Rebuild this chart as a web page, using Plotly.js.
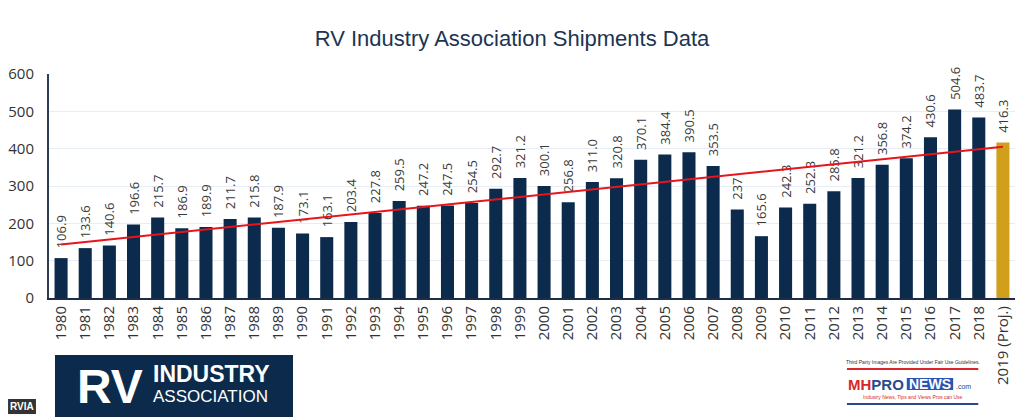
<!DOCTYPE html>
<html>
<head>
<meta charset="utf-8">
<script src="https://cdn.plot.ly/plotly-3.0.1.min.js"></script>
<style>html,body{margin:0;padding:0;background:#fff;}#chart{width:1024px;height:420px;}</style>
</head>
<body>
<div id="chart"></div>
<script>
const years = ['1980','1981','1982','1983','1984','1985','1986','1987','1988','1989','1990','1991','1992','1993','1994','1995','1996','1997','1998','1999','2000','2001','2002','2003','2004','2005','2006','2007','2008','2009','2010','2011','2012','2013','2014','2015','2016','2017','2018','2019 (Proj.)'];
const shipments = [106.9,133.6,140.6,196.6,215.7,186.9,189.9,211.7,215.8,187.9,173.1,163.1,203.4,227.8,259.5,247.2,247.5,254.5,292.7,321.2,300.1,256.8,311.0,320.8,370.1,384.4,390.5,353.5,237,165.6,242.3,252.3,285.8,321.2,356.8,374.2,430.6,504.6,483.7,416.3];
const labels = ['106.9','133.6','140.6','196.6','215.7','186.9','189.9','211.7','215.8','187.9','173.1','163.1','203.4','227.8','259.5','247.2','247.5','254.5','292.7','321.2','300.1','256.8','311.0','320.8','370.1','384.4','390.5','353.5','237','165.6','242.3','252.3','285.8','321.2','356.8','374.2','430.6','504.6','483.7','416.3'];
const trendYears = ['1980','2019 (Proj.)'];
const trendValues = [143, 405];

const navy = '#0c2b4c';
const gold = '#d19f1c';
const colors = years.map((y,i)=> i === years.length-1 ? gold : navy);
// non-breaking spaces lift the rotated labels a little above the bar tops
const padded = labels.map(s => '\u00a0\u00a0' + s);

const bars = {
  type:'bar', x: years, y: shipments, text: padded,
  textposition:'outside', textangle:-90, constraintext:'none', cliponaxis:false,
  textfont:{family:'Open Sans, Liberation Sans, sans-serif', size:13, color:'#3a3a3a'},
  marker:{color: colors}, hoverinfo:'x+y', showlegend:false
};
const trend = {
  type:'scatter', mode:'lines', x: trendYears, y: trendValues,
  line:{color:'#e8141c', width:2}, showlegend:false, hoverinfo:'skip'
};

const layout = {
  width:1024, height:420,
  margin:{l:49, r:9, t:74, b:122},
  paper_bgcolor:'#fff', plot_bgcolor:'#fff',
  bargap:0.46,
  title:{text:'RV Industry Association Shipments Data', x:0.5, xanchor:'center', y:0.91, yanchor:'middle',
    font:{family:'Liberation Sans Narrow, Arial Narrow, Liberation Sans, sans-serif', size:22, color:'#1b3553'}},
  xaxis:{type:'category', tickangle:-90, showgrid:false, ticks:'', showline:true, linecolor:'#1c2f45', linewidth:2,
    tickfont:{family:'Open Sans, Liberation Sans, sans-serif', size:15, color:'#333'}},
  yaxis:{range:[0,600], dtick:100, showgrid:true, gridcolor:'#e6edf4', gridwidth:1, zeroline:false,
    showline:true, linecolor:'#2c3e52', linewidth:2, ticks:'', ticklabelstandoff:10,
    tickfont:{family:'Open Sans, Liberation Sans, sans-serif', size:15, color:'#333'}},
  shapes:[
    {type:'rect', xref:'paper', yref:'paper', x0:0.0062, x1:0.2526, y0:-0.531, y1:-0.254, fillcolor:'#0c2b4c', line:{width:0}},
    {type:'rect', xref:'paper', yref:'paper', x0:-0.0424, x1:-0.0135, y0:-0.518, y1:-0.451, fillcolor:'#333', line:{width:0}},
    {type:'line', xref:'paper', yref:'paper', x0:0.826, x1:0.962, y0:-0.317, y1:-0.317, line:{color:'#d9262c', width:2}},
    {type:'line', xref:'paper', yref:'paper', x0:0.826, x1:0.962, y0:-0.473, y1:-0.473, line:{color:'#2a4a8a', width:2}},
    {type:'rect', xref:'paper', yref:'paper', x0:0.888, x1:0.936, y0:-0.411, y1:-0.357, fillcolor:'#2a55b0', line:{width:0}}
  ],
  annotations:[
    {xref:'paper', yref:'paper', x:0.063, y:-0.395, text:'<b>RV</b>', showarrow:false, xanchor:'center', yanchor:'middle',
      font:{family:'Liberation Sans, sans-serif', size:48, color:'#fff'}},
    {xref:'paper', yref:'paper', x:0.106, y:-0.338, text:'<b>INDUSTRY</b>', showarrow:false, xanchor:'left', yanchor:'middle',
      font:{family:'Liberation Sans, sans-serif', size:23, color:'#fff'}},
    {xref:'paper', yref:'paper', x:0.106, y:-0.44, text:'ASSOCIATION', showarrow:false, xanchor:'left', yanchor:'middle',
      font:{family:'Liberation Sans, sans-serif', size:17, color:'#fff'}},
    {xref:'paper', yref:'paper', x:-0.028, y:-0.484, text:'<b>RVIA</b>', showarrow:false, xanchor:'center', yanchor:'middle',
      font:{family:'Liberation Sans Narrow, Liberation Sans, sans-serif', size:10, color:'#fff'}},
    {xref:'paper', yref:'paper', x:0.894, y:-0.286, text:'Third Party Images Are Provided Under Fair Use Guidelines.', showarrow:false, xanchor:'center', yanchor:'middle',
      font:{family:'Liberation Sans Narrow, Liberation Sans, sans-serif', size:5, color:'#333'}},
    {xref:'paper', yref:'paper', x:0.887, y:-0.385, text:'<b><span style="color:#d9262c">MH</span><span style="color:#2a4a8a">PRO</span></b>', showarrow:false, xanchor:'right', yanchor:'middle',
      font:{family:'Liberation Sans, sans-serif', size:15, color:'#2a4a8a'}},
    {xref:'paper', yref:'paper', x:0.912, y:-0.385, text:'<b>NEWS</b>', showarrow:false, xanchor:'center', yanchor:'middle',
      font:{family:'Liberation Sans, sans-serif', size:14, color:'#fff'}},
    {xref:'paper', yref:'paper', x:0.937, y:-0.395, text:'.com', showarrow:false, xanchor:'left', yanchor:'middle',
      font:{family:'Liberation Sans, sans-serif', size:7, color:'#2a4a8a'}},
    {xref:'paper', yref:'paper', x:0.894, y:-0.442, text:'Industry News, Tips and Views Pros can Use', showarrow:false, xanchor:'center', yanchor:'middle',
      font:{family:'Liberation Sans, sans-serif', size:5, color:'#d9262c'}}
  ]
};

Plotly.newPlot('chart', [bars, trend], layout, {displayModeBar:false, staticPlot:true});
</script>
</body>
</html>
